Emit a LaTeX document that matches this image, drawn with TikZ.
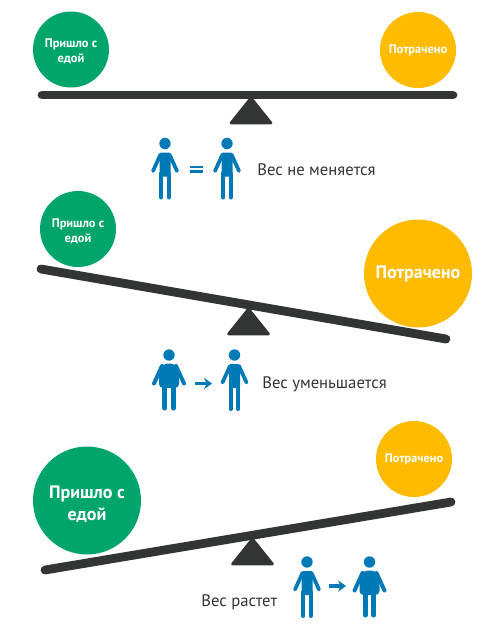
\documentclass[tikz,border=0pt]{standalone}
\usepackage{fontspec}
\setmainfont{PT Sans}
\usetikzlibrary{arrows.meta}
\definecolor{verde}{HTML}{00A56C}
\definecolor{amarillo}{HTML}{FFBB00}
\definecolor{oscuro}{HTML}{333535}
\definecolor{azul}{HTML}{0079B7}
\begin{document}
\begin{tikzpicture}[
    x=0.75pt,
    y=-0.75pt,
    circulo/.style={circle, inner sep=0pt, minimum size=#1*0.75pt, align=center, text=white, font=\bfseries\fontsize{9.3}{11.4}\selectfont},
    rotulo/.style={inner sep=0pt, align=center, text=white, font=\bfseries\fontsize{9.3}{11.4}\selectfont},
    grande/.style={font=\bfseries\fontsize{13.5}{16.5}\selectfont},
    viga/.style={draw=oscuro, line width=6.6pt, line cap=round},
    apoyo/.style={draw=oscuro, fill=oscuro, line width=2pt, line join=round},
    leyenda/.style={font=\fontsize{12.5}{14}\selectfont, text=oscuro, inner sep=0pt},
    flecha/.style={draw=azul, line width=2.7pt, -{Stealth[length=6pt, width=8.5pt]}},
    delgado/.pic={
        \fill[azul] (0,0) circle (5.7);
        \fill[azul, rounded corners=1pt] (-5.5,9) -- (5.5,9) -- (5.5,33) -- (-5.5,33) -- cycle;
        \draw[azul, line width=2.8pt, line cap=round] (-4.5,11) -- (-12,27.5);
        \draw[azul, line width=2.8pt, line cap=round] (4.5,11) -- (12,27.5);
        \draw[azul, line width=3pt, line cap=round] (-3.7,30) -- (-3.7,54);
        \draw[azul, line width=3pt, line cap=round] (3.7,30) -- (3.7,54);
    },
    grueso/.pic={
        \fill[azul] (0,0) circle (5.7);
        \fill[azul, rounded corners=3pt] (-6,8.5) -- (6,8.5) -- (10,20) -- (10,33) -- (-10,33) -- (-10,20) -- cycle;
        \draw[azul, line width=3pt, line cap=round] (-7,11) -- (-15,28.5);
        \draw[azul, line width=3pt, line cap=round] (7,11) -- (15,28.5);
        \draw[azul, line width=3.8pt, line cap=round] (-4.3,30) -- (-4.3,53);
        \draw[azul, line width=3.8pt, line cap=round] (4.3,30) -- (4.3,53);
    }
]
\useasboundingbox (0,0) rectangle (500,640);

% Balanza / extremos / apoyo
\foreach \nombre/\xa/\ya/\xb/\yb/\xc/\yc in {
    uno/42/95/453/95/251/98,
    dos/41/269/446/339/248.5/309,
    tres/45/570/451/502/252.5/539}
{
    \coordinate (\nombre a) at (\xa,\ya);
    \coordinate (\nombre b) at (\xb,\yb);
    \draw[viga] (\nombre a) -- (\nombre b);
    \draw[apoyo] (\xc,\yc) -- (\xc-20,\yc+25) -- (\xc+20,\yc+25) -- cycle;
}

% Primera
\node[circulo=76, fill=verde] (comida1) at (71,49.5) {};
\node[rotulo, yshift=-1.5pt] (rotulo1) at (comida1) {Пришло с\\едой};
\node[circulo=76, fill=amarillo] (gasto1) at (418,50) {Потрачено};
\pic at (165,143.5) {delgado};
\pic at (227,143.5) {delgado};
\fill[azul] (190,165.5) rectangle (203,168.3);
\fill[azul] (190,170) rectangle (203,172.8);
\node[leyenda, anchor=west] (texto1) at (257,169.5) {Вес не меняется};

% Segunda
\node[circulo=76, fill=verde] (comida2) at (78,229) {};
\node[rotulo, yshift=-1.5pt] (rotulo2) at (comida2) {Пришло с\\едой};
\node[circulo=108, fill=amarillo, grande] (gasto2) at (418,273.5) {Потрачено};
\pic at (169,355) {grueso};
\pic at (234.5,355) {delgado};
\coordinate (inicio2) at (195,383.5);
\coordinate (fin2) at (212,383.5);
\draw[flecha] (inicio2) -- (fin2);
\node[leyenda, anchor=west] (texto2) at (262,384.5) {Вес уменьшается};

% Tercera
\node[circulo=108, fill=verde] (comida3) at (87,500.5) {};
\node[rotulo, grande, yshift=-3pt] (rotulo3) at (comida3) {Пришло с\\едой};
\node[circulo=76, fill=amarillo] (gasto3) at (414,459) {Потрачено};
\pic at (307,562) {delgado};
\pic at (369.5,562) {grueso};
\coordinate (inicio3) at (329,586);
\coordinate (fin3) at (346,586);
\draw[flecha] (inicio3) -- (fin3);
\node[leyenda, anchor=west] (texto3) at (201,602.5) {Вес растет};

\end{tikzpicture}
\end{document}
